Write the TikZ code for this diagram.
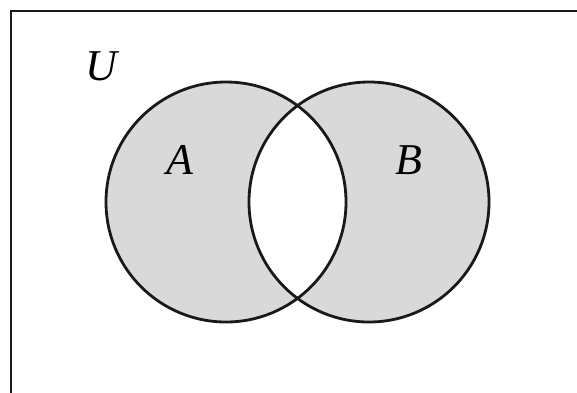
\documentclass[tikz,border=0pt]{standalone}
\usepackage{fontspec}
\setmainfont{Liberation Serif}[ItalicFont={Liberation Serif Italic}]
\definecolor{venngray}{HTML}{D9D9D9}
\tikzset{
  setcircle/.style={draw=black!90, line width=2.8pt},
  framebox/.style={draw=black!90, line width=2.4pt},
  setlabel/.style={font=\fontsize{44}{50}\selectfont\itshape, inner sep=0pt}
}
\begin{document}
\begin{tikzpicture}[x=1pt,y=-1pt]
\useasboundingbox (0,0) rectangle (577,392);
\clip (0,0) rectangle (577,392);
\draw[framebox] (11,11) rectangle (600,420);
\coordinate (ca) at (226,202);
\coordinate (cb) at (369,202);
\fill[venngray, even odd rule] (ca) circle[radius=120] (cb) circle[radius=120];
\draw[setcircle] (ca) circle[radius=120];
\draw[setcircle] (cb) circle[radius=120];
\node[setlabel] (U) at (101,66) {U};
\node[setlabel] (A) at (180,160) {A};
\node[setlabel] (B) at (409,160) {B};
\end{tikzpicture}
\end{document}
